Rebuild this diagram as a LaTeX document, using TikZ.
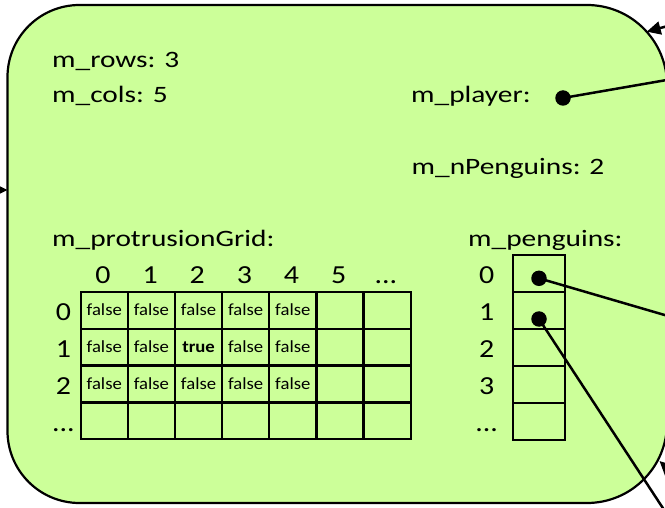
\documentclass[tikz,border=0pt]{standalone}
\usepackage{fontspec}
\setmainfont{Carlito}
\newfontfamily\fieldfont{Carlito}[FakeStretch=1.25]
\newfontfamily\idxfont{Carlito}[FakeStretch=1.15]
\newfontfamily\cellfont{Carlito}[FakeStretch=1.1]
\usetikzlibrary{arrows.meta}
\definecolor{objfill}{RGB}{204,255,153}
\newcommand\etcdots{...}

\begin{document}
\begin{tikzpicture}[x=1pt,y=-1pt,
  fieldtxt/.style={font=\fieldfont\fontsize{23.5}{28}\selectfont, anchor=base west, inner sep=0pt},
  idx/.style={font=\idxfont\fontsize{26}{31}\selectfont, anchor=base, inner sep=0pt},
  cell/.style={draw, line width=2.2pt, minimum width=47.14pt, minimum height=36.9pt, inner sep=0pt,
    font=\cellfont\fontsize{17}{20}\selectfont},
  slot/.style={draw, line width=2.2pt, minimum width=52.3pt, minimum height=37pt, inner sep=0pt},
  ptr/.style={circle, fill, inner sep=0pt, minimum size=15.5pt},
  link/.style={line width=2.5pt},
  inarrow/.style={line width=2.5pt, -{Triangle[length=14pt,width=13pt]}}
]
\clip (0,0) rectangle (665,508);
\useasboundingbox (0,0) rectangle (665,508);

% the object: a rounded box, larger corners on the right
\draw[line width=2.2pt, fill=objfill]
  (7.5,77) arc[start angle=180, end angle=270, radius=72]
  -- (587,5) arc[start angle=270, end angle=360, radius=80]
  -- (667,423) arc[start angle=0, end angle=90, radius=80]
  -- (79.5,503) arc[start angle=90, end angle=180, radius=72]
  -- cycle;

% scalar members
\node[fieldtxt] (rows) at (52,67.7) {m\_rows: 3};
\node[fieldtxt] (cols) at (52,102.7) {m\_cols: 5};
\node[fieldtxt] (player) at (411,103) {m\_player:};
\node[fieldtxt] (npeng) at (411.5,174.3) {m\_nPenguins: 2};
\node[fieldtxt] (gridlbl) at (52,246.7) {m\_protrusionGrid:};
\node[fieldtxt] (penglbl) at (468,246.7) {m\_penguins:};

% protrusion grid
\foreach \r in {0,...,3} {
  \foreach \c in {0,...,6} {
    \pgfmathtruncatemacro\filled{(\r<3)&&(\c<5)}
    \ifnum\filled=1 \def\txt{false}\else\def\txt{}\fi
    \ifnum\r=1 \ifnum\c=2 \def\txt{\textbf{true}}\fi\fi
    \node[cell] (g-\r-\c) at ({104.27+47.14*\c},{310.15+36.9*\r}) {\txt};
  }
}
\foreach \c/\t in {0/0,1/1,2/2,3/3,4/4,5/5,6/\etcdots}
  \node[idx] (gc-\c) at ({103+47.14*\c},283.3) {\t};
\foreach \r/\t/\y in {0/0/320,1/1/357.3,2/2/394,3/\etcdots/431}
  \node[idx] (gr-\r) at (63.5,\y) {\t};

% penguin array
\foreach \r in {0,...,4}
  \node[slot] (p-\r) at (538.85,{273.5+37*\r}) {};
\foreach \r/\t/\y in {0/0/283.3,1/1/320,2/2/357.3,3/3/394,4/\etcdots/431}
  \node[idx] (pi-\r) at (486.7,\y) {\t};

% pointers
\node[ptr] (dplayer) at (563,98) {};
\node[ptr] (dpeng0) at (539,278.3) {};
\node[ptr] (dpeng1) at (539,319) {};
\coordinate (tplayer) at (680,77.7);
\coordinate (tpeng0) at (680,319.5);
\coordinate (tpeng1) at (672,522);
\draw[link] (dplayer.center) -- (tplayer);
\draw[link] (dpeng0.center) -- (tpeng0);
\draw[link] (dpeng1.center) -- (tpeng1);

% incoming references
\coordinate (inTopFrom) at (690,20);
\coordinate (inTopTip) at (646.7,31.7);
\coordinate (inLeftFrom) at (-30,190);
\coordinate (inLeftTip) at (7.5,190);
\coordinate (inLowFrom) at (688,488);
\coordinate (inLowTip) at (659.5,461);
\draw[inarrow] (inTopFrom) -- (inTopTip);
\draw[inarrow] (inLeftFrom) -- (inLeftTip);
\draw[inarrow] (inLowFrom) -- (inLowTip);
\end{tikzpicture}
\end{document}
